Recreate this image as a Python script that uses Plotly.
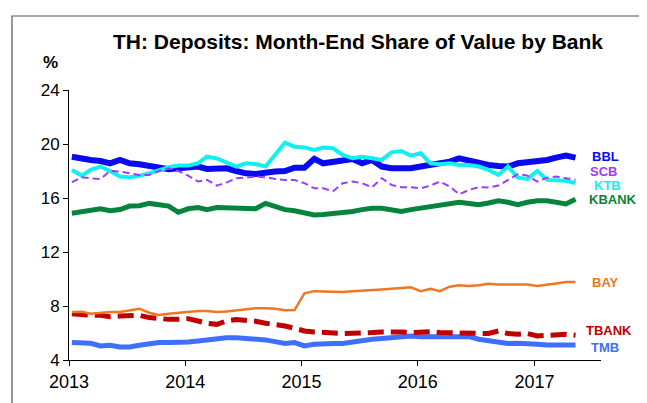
import pandas as pd
import plotly.graph_objects as go

# ---- data (monthly, Jan 2013 - May 2017) ----
months = pd.date_range("2013-01-01", periods=53, freq="MS") + pd.Timedelta(days=9)

bbl = [19.06, 18.99, 18.82, 18.74, 18.57, 18.82, 18.57, 18.5, 18.4, 18.25,
       18.13, 18.2, 18.28, 18.33, 18.15, 18.15, 18.2, 18.0, 17.83, 17.78,
       17.9, 17.96, 18.0, 18.25, 18.25, 18.9, 18.57, 18.68, 18.82, 18.89,
       18.57, 18.82, 18.33, 18.2, 18.2, 18.2, 18.33, 18.45, 18.62, 18.69,
       18.94, 18.74, 18.57, 18.45, 18.37, 18.33, 18.57, 18.64, 18.69, 18.82,
       18.99, 19.14, 18.99]
ktb = [18.08, 17.66, 18.08, 18.33, 18.0, 17.59, 17.54, 17.64, 17.83, 18.08,
       18.28, 18.4, 18.4, 18.57, 19.06, 18.94, 18.65, 18.33, 18.57, 18.52,
       18.33, 19.19, 20.1, 19.8, 19.75, 19.56, 19.73, 19.68, 19.19, 18.94,
       19.06, 18.94, 18.82, 19.38, 19.48, 19.14, 19.31, 18.57, 18.5, 18.57,
       18.45, 18.45, 18.33, 18.08, 17.71, 18.33, 17.51, 17.41, 18.0, 17.34,
       17.34, 17.27, 17.1]
scb = [17.17, 17.54, 17.46, 17.41, 18.0, 17.96, 17.83, 17.71, 17.71, 18.0,
       18.2, 18.0, 17.66, 17.22, 17.34, 16.92, 17.14, 17.46, 17.51, 17.59,
       17.54, 17.41, 17.34, 17.34, 17.1, 16.72, 16.72, 16.5, 17.09, 17.22,
       17.09, 16.8, 17.46, 16.97, 16.8, 16.8, 16.72, 16.92, 17.22, 16.85,
       16.28, 16.6, 16.8, 16.77, 16.92, 17.34, 17.76, 17.66, 17.22, 17.51,
       17.59, 17.46, 17.34]
kbank = [14.87, 15.0, 15.06, 15.2, 15.06, 15.14, 15.4, 15.43, 15.6, 15.5,
         15.4, 14.94, 15.2, 15.3, 15.14, 15.3, 15.26, 15.3, 15.26, 15.2,
         15.6, 15.4, 15.14, 15.06, 14.9, 14.75, 14.77, 14.85, 14.87, 15.0,
         15.14, 15.24, 15.24, 15.14, 15.0, 15.14, 15.24, 15.3, 15.48, 15.5,
         15.68, 15.6, 15.5, 15.63, 15.8, 15.68, 15.5, 15.68, 15.8, 15.8,
         15.68, 15.56, 15.9]
bay = [7.56, 7.58, 7.43, 7.5, 7.56, 7.56, 7.7, 7.8, 7.5, 7.33,
       7.43, 7.5, 7.56, 7.63, 7.63, 7.56, 7.6, 7.68, 7.75, 7.83,
       7.83, 7.8, 7.68, 7.7, 8.94, 9.1, 9.08, 9.08, 9.03, 9.1,
       9.16, 9.18, 9.23, 9.28, 9.33, 9.38, 9.1, 9.28, 9.1, 9.43,
       9.53, 9.48, 9.53, 9.65, 9.6, 9.6, 9.65, 9.6, 9.48, 9.6,
       9.67, 9.77, 9.77]
tbank = [7.43, 7.33, 7.31, 7.31, 7.21, 7.26, 7.31, 7.31, 7.14, 7.06,
         7.01, 7.01, 7.06, 6.89, 6.72, 6.64, 6.89, 7.0, 6.97, 6.87,
         6.72, 6.64, 6.52, 6.35, 6.15, 6.08, 6.03, 5.97, 5.96, 5.98,
         5.98, 6.03, 6.08, 6.1, 6.08, 6.03, 6.08, 6.1, 6.03, 6.0,
         6.0, 5.98, 5.9, 5.96, 6.15, 5.96, 5.9, 5.96, 5.78, 5.83,
         5.83, 5.9, 5.83]
tmb = [5.29, 5.22, 5.24, 5.04, 5.09, 4.97, 4.97, 5.09, 5.22, 5.29,
       5.29, 5.29, 5.34, 5.41, 5.49, 5.59, 5.64, 5.64, 5.61, 5.59,
       5.49, 5.36, 5.22, 5.29, 5.04, 5.17, 5.22, 5.23, 5.22, 5.34,
       5.46, 5.54, 5.59, 5.66, 5.66, 5.78, 5.73, 5.73, 5.66, 5.66,
       5.73, 5.73, 5.54, 5.41, 5.36, 5.22, 5.24, 5.24, 5.17, 5.12,
       5.12, 5.12, 5.12]

y_ticks = [4, 8, 12, 16, 20, 24]
x_tick_labels = ["2013", "2014", "2015", "2016", "2017"]

# ---- layout geometry ----
W, H = 647, 403
ML, MR, MT, MB = 61, 54, 82, 51
PW, PH = W - ML - MR, H - MT - MB


def px(x):
    return (x - ML) / PW


def py(y):
    return (H - MB - y) / PH


FONT = "Arial, 'Liberation Sans', sans-serif"

series = [
    # name, values, color, width, dash, label x(px), label y(px)
    ("TMB", tmb, "#3F6FFF", 5, "solid", 581, 339),
    ("TBANK", tbank, "#C00000", 5, "16px,7px", 576, 322),
    ("BAY", bay, "#EE7722", 2.5, "solid", 582, 274),
    ("KBANK", kbank, "#06843E", 5, "solid", 579, 191),
    ("BBL", bbl, "#0A0AEE", 6, "solid", 582, 148),
    ("KTB", ktb, "#11F0F0", 4, "solid", 584, 177),
    ("SCB", scb, "#9B3DFF", 2, "7px,4px", 580, 163),
]

fig = go.Figure()
annotations = []
for name, vals, color, width, dash, lx, ly in series:
    fig.add_trace(go.Scatter(x=months, y=vals, mode="lines", name=name,
                             line=dict(color=color, width=width, dash=dash),
                             showlegend=False, hoverinfo="skip"))
    annotations.append(dict(text=f"<b>{name}</b>", x=px(lx), y=py(ly),
                            xref="paper", yref="paper", xanchor="left",
                            yanchor="middle", showarrow=False,
                            font=dict(family=FONT, size=13, color=color)))

annotations.append(dict(text="<b>%</b>", x=px(42), y=py(55), xref="paper",
                        yref="paper", xanchor="center", yanchor="middle",
                        showarrow=False,
                        font=dict(family=FONT, size=17, color="black")))

fig.update_layout(
    width=W, height=H,
    margin=dict(l=ML, r=MR, t=MT, b=MB),
    paper_bgcolor="white", plot_bgcolor="white",
    title=dict(text="<b>TH: Deposits: Month-End Share of Value by Bank</b>",
               x=350 / W, xanchor="center", y=1 - 34 / H, yanchor="middle",
               xref="container",
               font=dict(family=FONT, size=21, color="black")),
    annotations=annotations,
    shapes=[dict(type="rect", xref="paper", yref="paper",
                 x0=px(4), x1=px(641), y0=py(420), y1=py(8),
                 line=dict(color="#555555", width=1.2), layer="below")],
)

fig.update_xaxes(
    type="date", range=["2013-01-01", "2017-07-29"],
    tickvals=[f"{t}-01-01" for t in x_tick_labels], ticktext=x_tick_labels,
    showgrid=False, zeroline=False, showline=True, linecolor="black",
    linewidth=1, ticks="outside", ticklen=5, tickcolor="black",
    tickfont=dict(family=FONT, size=18, color="black"),
)
fig.update_yaxes(
    range=[4, 24], tickvals=y_ticks, ticktext=[str(v) for v in y_ticks],
    showgrid=False, zeroline=False, showline=True, linecolor="black",
    linewidth=1, ticks="outside", ticklen=5, tickcolor="black",
    tickfont=dict(family=FONT, size=17, color="black"),
)

fig.write_html("out.html")
